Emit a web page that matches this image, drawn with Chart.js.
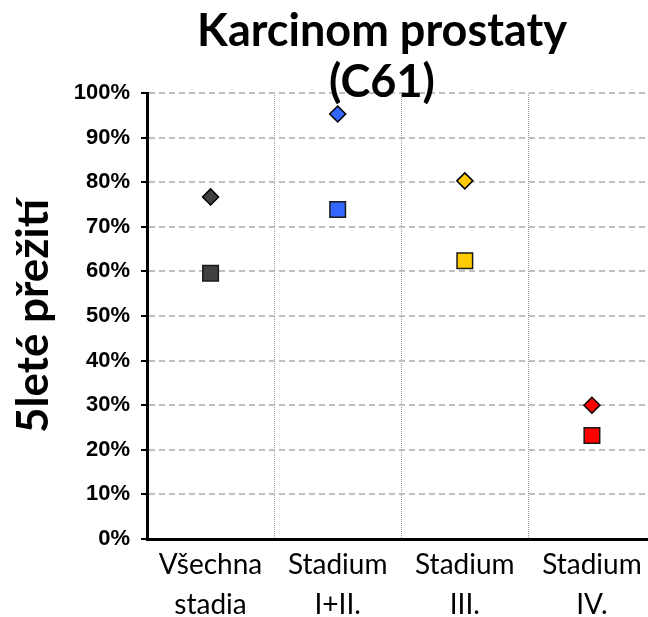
<!DOCTYPE html>
<html>
<head>
<meta charset="utf-8">
<script src="https://cdn.jsdelivr.net/npm/chart.js@4/dist/chart.umd.min.js"></script>
<style>
  html, body { margin: 0; padding: 0; background: #fff; overflow: hidden; }
  canvas { display: block; }
</style>
</head>
<body>
<canvas id="chart" width="668" height="617"></canvas>
<script>
// categories (two-line labels)
const categories = [['Všechna', 'stadia'], ['Stadium', 'I+II.'], ['Stadium', 'III.'], ['Stadium', 'IV.']];
// 5-year survival, diamonds and squares
const diamondValues = [76.7, 95.3, 80.3, 30.0];
const squareValues = [59.6, 73.9, 62.4, 23.2];
const pointColors = ['#404040', '#3366ff', '#ffcc00', '#ff0000'];
const titleLines = ['Karcinom prostaty', '(C61)'];
const yTitle = '5leté přežití';

// title drawn by hand so it can sit over the plot like the original
const titlePlugin = {
  id: 'bigTitle',
  afterDraw(chart) {
    const ctx = chart.ctx;
    ctx.save();
    ctx.font = 'bold 45px Lato';
    ctx.fillStyle = '#000';
    ctx.textAlign = 'center';
    ctx.textBaseline = 'alphabetic';
    ctx.fillText(titleLines[0], 382, 46);
    ctx.fillText(titleLines[1], 382, 97);
    ctx.restore();
  }
};

new Chart(document.getElementById('chart'), {
  type: 'line',
  data: {
    labels: categories,
    datasets: [
      {
        data: diamondValues,
        showLine: false,
        pointStyle: 'rectRot',
        pointRadius: 8,
        pointHoverRadius: 8,
        pointBackgroundColor: pointColors,
        pointBorderColor: '#000',
        pointBorderWidth: 1.5
      },
      {
        data: squareValues,
        showLine: false,
        pointStyle: 'rect',
        pointRadius: 11,
        pointHoverRadius: 11,
        pointBackgroundColor: pointColors,
        pointBorderColor: '#1a1a1a',
        pointBorderWidth: 1.5
      }
    ]
  },
  options: {
    responsive: false,
    animation: false,
    layout: { padding: { top: 93, right: 1, left: 0, bottom: 0 } },
    plugins: {
      legend: { display: false },
      tooltip: { enabled: false },
      title: { display: false }
    },
    scales: {
      x: {
        offset: true,
        afterFit: s => { s.height = 78; },
        grid: {
          offset: true,
          drawTicks: false,
          color: c => c.index === 0 ? 'transparent' : '#9a9a9a',
          lineWidth: 1
        },
        border: { color: '#000', width: 3, dash: [1, 1] },
        ticks: {
          padding: 6,
          color: '#000',
          font: { family: 'Lato', size: 28, lineHeight: 1.43 },
          maxRotation: 0,
          autoSkip: false
        }
      },
      y: {
        min: 0,
        max: 100,
        afterFit: s => { s.width = 147; },
        grid: {
          color: c => c.tick && c.tick.value === 0 ? 'transparent' : '#bfbfbf',
          lineWidth: 2,
          tickColor: '#000',
          tickWidth: 2,
          tickLength: 6,
          tickBorderDash: []
        },
        border: { color: '#000', width: 3, dash: [6, 4] },
        ticks: {
          stepSize: 10,
          padding: 11,
          color: '#000',
          font: { family: 'Liberation Sans', size: 22, weight: 'bold' },
          callback: v => v + '%'
        },
        title: {
          display: true,
          text: yTitle,
          color: '#000',
          padding: { top: 7, bottom: 0 },
          font: { family: 'Lato', size: 44, weight: 'bold', lineHeight: 1.2 }
        }
      }
    }
  },
  plugins: [titlePlugin]
});
</script>
</body>
</html>
